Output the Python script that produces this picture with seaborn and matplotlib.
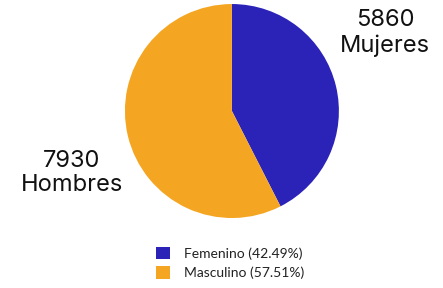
import matplotlib
matplotlib.use("Agg")
import matplotlib.pyplot as plt
import seaborn as sns

categories = ["Femenino", "Masculino"]
values = [5860, 7930]
outer_labels = ["Mujeres", "Hombres"]
colors = ["#2B22B8", "#F4A623"]

sns.set_theme(style="white")
plt.rcParams["font.family"] = ["Lato", "DejaVu Sans"]

fig = plt.figure(figsize=(4.43, 2.88), dpi=100)
ax = fig.add_axes([0.282, 0.243, 0.483, 0.743])
wedges, _ = ax.pie(values, colors=colors, startangle=90, counterclock=False,
                   wedgeprops=dict(linewidth=0))
ax.set_aspect("equal")
ax.set_xlim(-1, 1)
ax.set_ylim(-1, 1)

total = sum(values)
pcts = [v / total * 100 for v in values]

fig.text(385 / 443, 1 - 33 / 288, f"{values[0]}\n{outer_labels[0]}", ha="center", va="center",
         fontsize=17, family=["Inter", "DejaVu Sans"], linespacing=1.15, color="#111111")
fig.text(72 / 443, 1 - 173 / 288, f"{values[1]}\n{outer_labels[1]}", ha="center", va="center",
         fontsize=17, family=["Inter", "DejaVu Sans"], linespacing=1.15, color="#111111")

labels = [f"{c} ({p:.2f}%)" for c, p in zip(categories, pcts)]
fig.legend(wedges, labels, loc="center", bbox_to_anchor=(230 / 443, 1 - 263 / 288),
           frameon=False, fontsize=10, handlelength=1.0, handleheight=1.0,
           handletextpad=1.0, labelspacing=0.5, labelcolor="#222222")

fig.savefig("out.png", dpi=100)
